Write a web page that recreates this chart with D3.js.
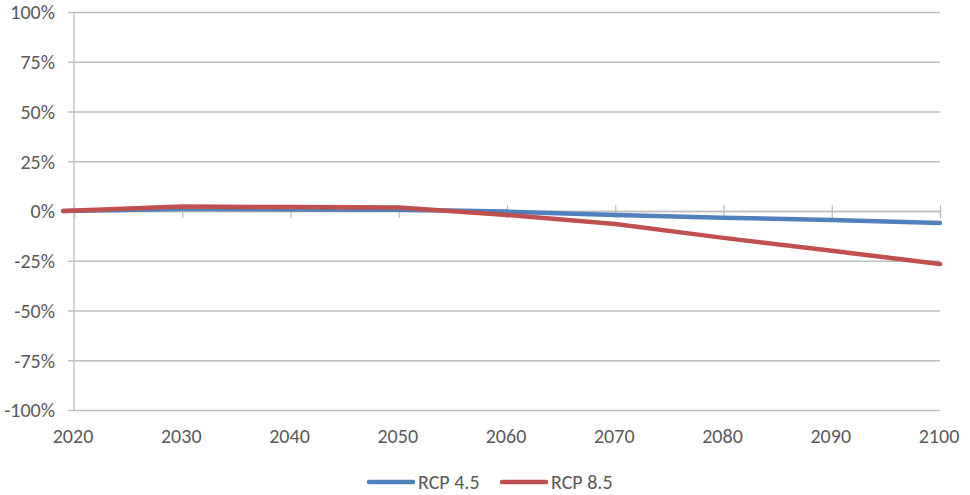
<!DOCTYPE html>
<html>
<head>
<meta charset="utf-8">
<script src="https://cdn.jsdelivr.net/npm/d3@7"></script>
<style>
  body { margin: 0; background: #fff; }
  text { font-family: Carlito, "Open Sans", "Noto Sans", sans-serif; fill: #595959; }
</style>
</head>
<body>
<script>
// Chart data
const tickYears = [2020, 2030, 2040, 2050, 2060, 2070, 2080, 2090, 2100];
const years = [2019, 2030, 2040, 2050, 2060, 2070, 2080, 2090, 2100];
const rcp45 = [0, 1.0, 0.8, 0.6, -0.3, -2.0, -3.4, -4.5, -6.0];
const rcp85 = [0, 2.2, 2.0, 1.7, -2.0, -6.5, -13.5, -20.0, -26.6];
const yTicks = [-100, -75, -50, -25, 0, 25, 50, 75, 100];
const seriesNames = ['RCP 4.5', 'RCP 8.5'];
const seriesColors = ['#4F81BD', '#C0504D'];

const width = 970, height = 495;
const margin = {top: 12, right: 30, bottom: 85, left: 74};
const plotW = width - margin.right - margin.left;

const svg = d3.select('body').append('svg')
  .attr('width', width)
  .attr('height', height);

const x = d3.scaleLinear()
  .domain([2020, 2100])
  .range([margin.left, width - margin.right]);

const y = d3.scaleLinear()
  .domain([-100, 100])
  .range([height - margin.bottom, margin.top]);

// gridlines + y labels
const yAxis = d3.axisLeft(y)
  .tickValues(yTicks)
  .tickSize(plotW + 6)
  .tickFormat(d => d + '%');

svg.append('g')
  .attr('transform', `translate(${width - margin.right},0)`)
  .call(yAxis)
  .call(g => {
    g.select('.domain').remove();
    g.selectAll('.tick line').attr('stroke', '#BFBFBF').attr('stroke-width', 1.3);
    g.selectAll('.tick text')
      .attr('x', -plotW - 19)
      .attr('font-size', 20)
      .attr('dy', '0.34em');
  });

// y axis line
svg.append('line')
  .attr('x1', margin.left).attr('x2', margin.left)
  .attr('y1', y(100)).attr('y2', y(-100))
  .attr('stroke', '#BFBFBF').attr('stroke-width', 1.3);

// x axis at 0 with crossing ticks
const xAxis = d3.axisBottom(x).tickValues(tickYears).tickSize(7).tickFormat('');
svg.append('g')
  .attr('transform', `translate(0,${y(0)})`)
  .call(xAxis)
  .call(g => {
    g.select('.domain').attr('stroke', '#BFBFBF').attr('stroke-width', 1.3);
    g.selectAll('.tick line').attr('y1', -6).attr('stroke', '#BFBFBF').attr('stroke-width', 1.3);
  });

// x labels at bottom
svg.append('g')
  .selectAll('text')
  .data(tickYears)
  .join('text')
  .attr('x', d => x(d) - 1)
  .attr('y', y(-100) + 33)
  .attr('text-anchor', 'middle')
  .attr('font-size', 20)
  .text(d => d);

// lines
const line = d3.line()
  .x((d, i) => x(years[i]))
  .y(d => y(d));

[rcp45, rcp85].forEach((s, i) => {
  svg.append('path')
    .datum(s)
    .attr('fill', 'none')
    .attr('stroke', seriesColors[i])
    .attr('stroke-width', 4.5)
    .attr('stroke-linecap', 'round')
    .attr('stroke-linejoin', 'round')
    .attr('d', line);
});

// legend
const legendX = [369, 502];
const legend = svg.append('g').attr('transform', 'translate(0,482)');
seriesNames.forEach((name, i) => {
  legend.append('line')
    .attr('x1', legendX[i]).attr('x2', legendX[i] + 44)
    .attr('stroke', seriesColors[i])
    .attr('stroke-width', 4.5)
    .attr('stroke-linecap', 'round');
  legend.append('text')
    .attr('x', legendX[i] + 49)
    .attr('dy', '0.35em')
    .attr('font-size', 20)
    .text(name);
});
</script>
</body>
</html>
